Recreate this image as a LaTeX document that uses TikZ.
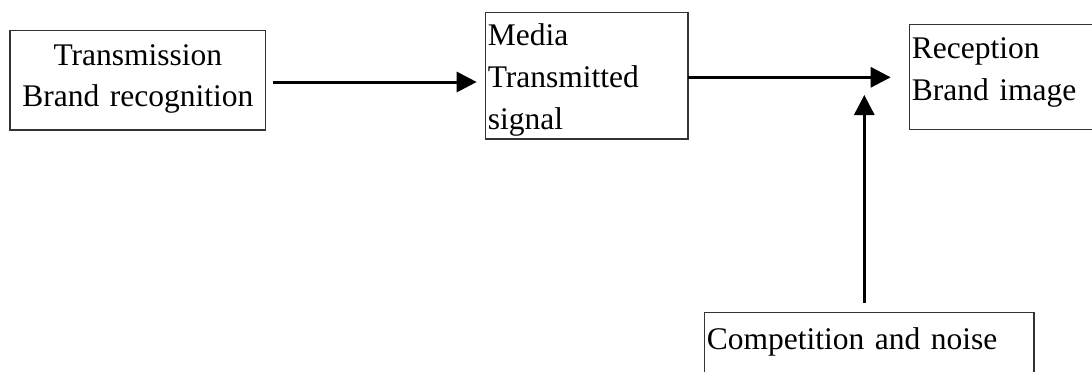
\documentclass[tikz,border=0pt]{standalone}
\usepackage{fontspec}
\setmainfont{Liberation Serif}
\usetikzlibrary{arrows.meta,calc}
\begin{document}
\begin{tikzpicture}[x=1pt,y=-1pt,
  box/.style={draw=black!80, line width=1.4pt, outer sep=0pt,
    inner xsep=2.5pt, inner ysep=0pt, align=left, anchor=north west,
    font=\fontsize{31.5}{41.7}\selectfont},
  flow/.style={line width=3pt, -{Triangle[length=20pt,width=20pt]}}]
% page area, also clipping the boxes that run past its edges
\path[use as bounding box, clip] (0,0) rectangle (1092,372);
\fill[white] (0,0) rectangle (1092,372);

% blocks of the communication model
\node[box, align=center, text width=250.7pt, text height=34.3pt, text depth=65pt]
  (send) at (10,30.7) {Transmission\\Brand recognition};
\node[box, text width=197.7pt, text height=33pt, text depth=93.3pt]
  (media) at (485.3,12.7) {Media\\Transmitted\\signal};
\node[box, text width=195pt, text height=34pt, text depth=71pt]
  (recv) at (909.3,24.3) {Reception\\Brand image};
\node[box, text width=324.7pt, text height=36.6pt, text depth=60pt]
  (noise) at (704.3,312.7) {Competition and noise};

% signal flow
\draw[flow] ($(send.east)+(7,1.65)$) -- ($(send.east -| media.west)+(-8.6,1.65)$);
\draw[flow] ($(media.east)+(0,1.45)$) -- ($(media.east -| recv.west)+(-18.6,1.45)$);
\coordinate (noisetip) at (864.3,95);
\draw[flow] ($(noise.north -| noisetip)+(0,-9.7)$) -- (noisetip);
\end{tikzpicture}
\end{document}
